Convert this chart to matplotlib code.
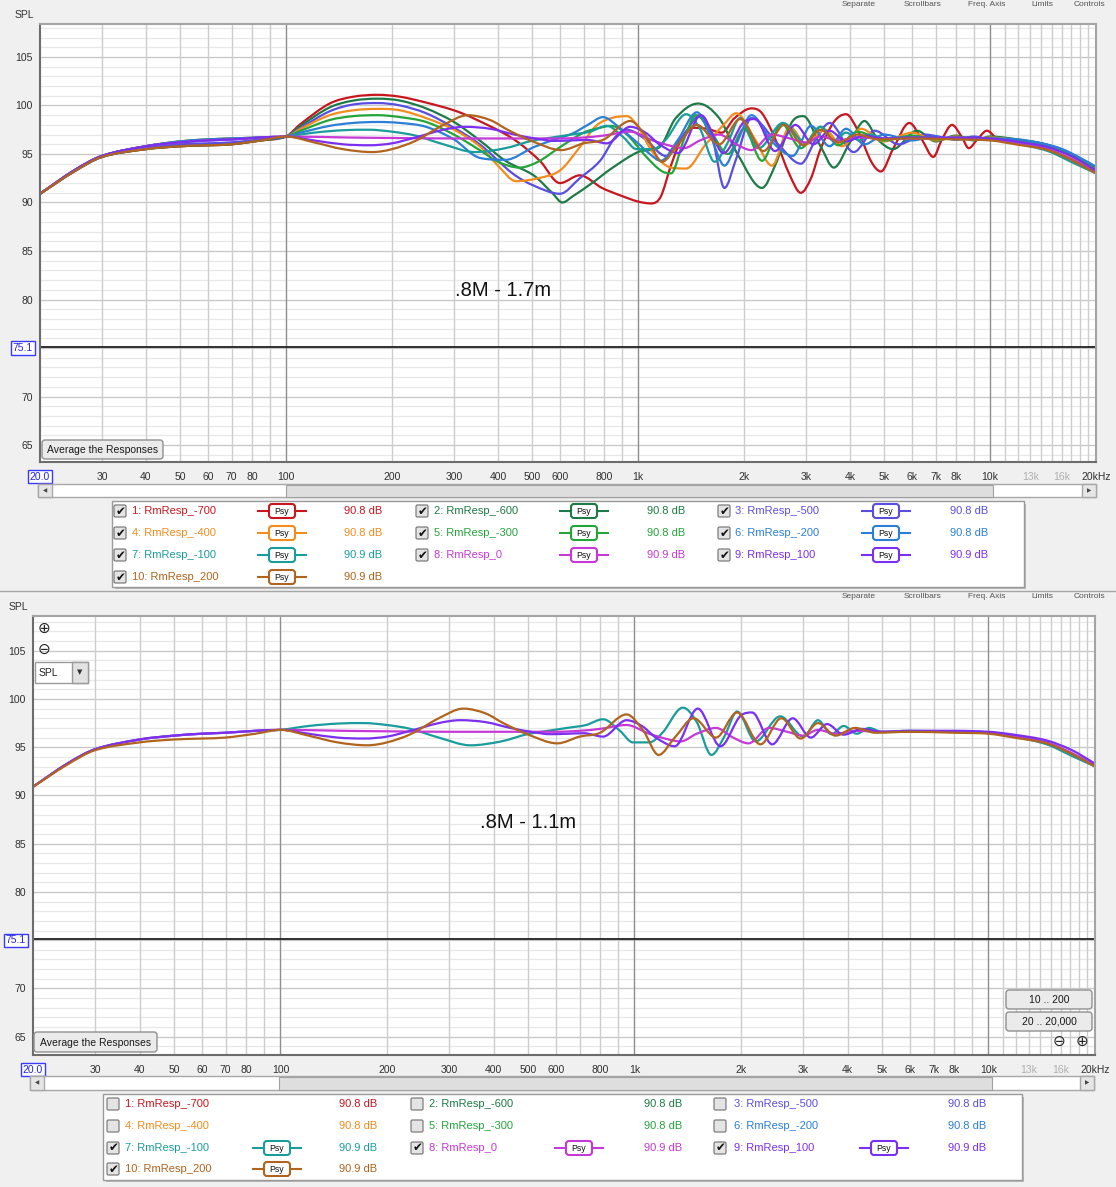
import numpy as np
import matplotlib.pyplot as plt
from matplotlib.path import Path
from matplotlib.patches import PathPatch, FancyBboxPatch, Rectangle
from matplotlib.transforms import Affine2D

plt.rcParams['font.family'] = ['Liberation Sans', 'DejaVu Sans']

# ---- legend entries ----
names = ["1: RmResp_-700", "2: RmResp_-600", "3: RmResp_-500", "4: RmResp_-400",
         "5: RmResp_-300", "6: RmResp_-200", "7: RmResp_-100", "8: RmResp_0",
         "9: RmResp_100", "10: RmResp_200"]
levels = ["90.8 dB"] * 6 + ["90.9 dB"] * 4
colors = ['#c8161e', '#1e7a46', '#5a4ee0', '#f28c1c', '#23a53a',
          '#2b7fd6', '#1b9c9c', '#c638d8', '#7b2ff0', '#b0641e']

# ---- responses (Hz, dB SPL) ----
freq_1 = [20, 25, 30, 40, 50, 60, 70, 85, 100, 110, 133, 155, 182, 211, 250, 300, 340,
          440, 526, 600, 683, 790, 895, 1000, 1090, 1160, 1240, 1330, 1420, 1570, 1730,
          1880, 2100, 2250, 2450, 2700, 2900, 3100, 3300, 3600, 3900, 4200, 4600, 4900,
          5300, 5900, 6400, 6900, 7300, 7800, 8300, 8700, 9200, 9800, 10500, 12000,
          14000, 16000, 18000, 20000]
spl_1 = [90.9, 93.2, 94.7, 95.5, 95.8, 95.9, 96.0, 96.4, 96.8, 98.1, 100.2, 100.9, 101.1,
         100.9, 100.3, 99.5, 98.7, 96.6, 94.3, 92.0, 92.8, 91.5, 90.7, 90.1, 89.9, 90.6,
         93.8, 96.6, 97.7, 97.6, 97.2, 98.7, 99.7, 99.2, 96.6, 92.8, 91.0, 92.5, 95.5,
         98.3, 99.1, 97.5, 94.2, 93.2, 95.5, 98.2, 96.5, 94.7, 96.5, 98.0, 96.8, 95.6,
         96.5, 97.4, 96.6, 96.4, 96.0, 95.3, 94.3, 93.1]

freq_2 = [20, 25, 30, 40, 50, 60, 70, 85, 100, 110, 133, 155, 182, 211, 250, 300, 355,
          420, 505, 570, 610, 650, 740, 840, 1000, 1150, 1280, 1480, 1700, 1930, 2250,
          2450, 2750, 2950, 3300, 3600, 4000, 4400, 4800, 5300, 6200, 7000, 8000, 9000,
          10000, 12000, 14000, 16000, 18000, 20000]
spl_2 = [90.9, 93.2, 94.7, 95.5, 95.8, 95.9, 96.0, 96.4, 96.8, 97.9, 99.8, 100.5, 100.7,
         100.5, 99.7, 98.3, 96.4, 94.3, 92.8, 91.0, 90.0, 90.6, 92.0, 93.5, 95.2, 95.7,
         98.7, 100.2, 98.7, 94.8, 91.5, 93.8, 98.4, 98.9, 95.8, 93.6, 96.2, 98.4, 96.5,
         95.5, 97.4, 96.3, 96.9, 96.4, 96.8, 96.5, 96.1, 95.4, 94.4, 93.3]

freq_3 = [20, 25, 30, 40, 50, 60, 70, 85, 100, 110, 133, 155, 182, 211, 250, 300, 355,
          440, 505, 600, 683, 780, 860, 930, 1050, 1200, 1350, 1500, 1630, 1760, 1900,
          2100, 2500, 2900, 3200, 3500, 4100, 4700, 5500, 6500, 8000, 9000, 10000, 12000,
          14000, 16000, 18000, 20000]
spl_3 = [90.9, 93.2, 94.7, 95.6, 96.0, 96.1, 96.2, 96.5, 96.8, 97.7, 99.4, 100.1, 100.25,
         100.0, 99.2, 97.7, 96.0, 93.0, 91.75, 90.9, 92.5, 94.3, 96.7, 97.5, 96.5, 94.8,
         97.0, 99.0, 96.5, 91.5, 94.5, 98.7, 96.0, 94.0, 96.5, 98.2, 95.2, 97.4, 96.0,
         97.0, 96.5, 96.8, 96.5, 96.4, 96.1, 95.5, 94.6, 93.6]

freq_4 = [20, 25, 30, 40, 50, 60, 70, 85, 100, 110, 133, 155, 182, 211, 250, 300, 355,
          400, 450, 520, 600, 683, 760, 840, 930, 1000, 1100, 1240, 1370, 1550, 1750, 1900,
          2150, 2400, 2700, 3000, 3400, 3800, 4300, 5000, 6000, 7000, 8000, 9000, 10000,
          12000, 14000, 16000, 18000, 20000]
spl_4 = [90.9, 93.3, 94.8, 95.8, 96.3, 96.5, 96.6, 96.7, 96.8, 97.6, 99.0, 99.5, 99.65,
         99.5, 98.7, 97.5, 95.8, 93.8, 92.2, 92.5, 93.3, 95.7, 97.9, 98.7, 98.9, 97.8, 95.2,
         93.6, 93.5, 95.9, 98.0, 99.2, 96.5, 93.8, 97.8, 96.0, 97.5, 95.8, 97.6, 96.3, 97.2,
         96.4, 96.8, 96.5, 96.7, 96.4, 95.9, 95.2, 94.2, 93.2]

freq_5 = [20, 25, 30, 40, 50, 60, 70, 85, 100, 110, 133, 155, 182, 211, 250, 300, 355,
          400, 460, 520, 600, 700, 780, 840, 930, 1050, 1160, 1240, 1350, 1460, 1600, 1800,
          2000, 2250, 2560, 2900, 3300, 3700, 4200, 5000, 6000, 7000, 8000, 10000, 12000,
          14000, 16000, 18000, 20000]
spl_5 = [90.9, 93.3, 94.8, 95.8, 96.3, 96.5, 96.6, 96.7, 96.8, 97.4, 98.5, 98.9, 99.0,
         98.8, 98.3, 97.0, 95.4, 94.2, 93.6, 94.2, 95.7, 97.2, 97.7, 97.9, 97.0, 94.8, 93.3,
         93.0, 96.5, 99.0, 97.5, 95.0, 97.6, 94.3, 98.1, 95.6, 97.8, 95.9, 97.3, 96.4, 96.9,
         96.5, 96.7, 96.6, 96.4, 96.0, 95.3, 94.4, 93.4]

freq_6 = [20, 25, 30, 40, 50, 60, 70, 85, 100, 110, 133, 155, 182, 211, 250, 300, 355,
          420, 505, 580, 650, 720, 795, 880, 1000, 1080, 1160, 1300, 1470, 1620, 1760, 1900,
          2100, 2400, 2750, 3100, 3500, 3900, 4400, 5000, 6000, 7000, 8000, 10000, 12000,
          14000, 16000, 18000, 20000]
spl_6 = [90.9, 93.3, 94.8, 95.8, 96.3, 96.5, 96.6, 96.7, 96.8, 97.2, 97.9, 98.2, 98.3,
         98.2, 97.8, 96.5, 94.6, 94.4, 95.7, 96.5, 97.1, 98.0, 98.8, 97.8, 96.1, 95.0, 94.3,
         96.5, 99.3, 96.5, 93.8, 96.0, 99.0, 96.3, 94.8, 97.9, 95.8, 97.6, 96.0, 97.0, 96.4,
         96.8, 96.5, 96.6, 96.5, 96.1, 95.5, 94.6, 93.7]

freq_7 = [20, 25, 30, 40, 50, 60, 70, 85, 100, 120, 145, 172, 200, 233, 280, 344, 420,
          498, 570, 646, 730, 815, 910, 990, 1100, 1200, 1370, 1500, 1650, 1800, 1950, 2200,
          2580, 3000, 3300, 3600, 3900, 4250, 4600, 5000, 6000, 8000, 10000, 11800, 14600,
          17200, 20000]
spl_7 = [90.9, 93.3, 94.8, 95.8, 96.2, 96.4, 96.5, 96.7, 96.8, 97.2, 97.45, 97.5, 97.3,
         96.9, 96.0, 95.2, 95.6, 96.35, 96.7, 97.0, 97.3, 97.9, 96.7, 95.5, 95.5, 96.5,
         99.1, 97.6, 94.2, 96.2, 98.7, 95.6, 98.2, 96.1, 97.8, 96.35, 97.2, 96.4, 97.0,
         96.6, 96.7, 96.6, 96.5, 96.1, 95.3, 94.1, 93.0]

freq_8 = [20, 25, 30, 40, 50, 60, 70, 85, 100, 150, 200, 300, 400, 500, 600, 700, 800,
          950, 1100, 1250, 1350, 1500, 1700, 1900, 2100, 2400, 2700, 3000, 3300, 3700, 4200,
          5000, 6000, 8000, 10000, 11800, 14600, 17200, 20000]
spl_8 = [90.9, 93.3, 94.8, 95.8, 96.2, 96.4, 96.5, 96.7, 96.8, 96.7, 96.65, 96.6, 96.6,
         96.6, 96.6, 96.7, 96.9, 97.3, 96.4, 95.8, 95.6, 96.4, 97.0, 96.0, 95.4, 97.0, 96.6,
         96.2, 96.8, 96.4, 96.7, 96.6, 96.6, 96.6, 96.5, 96.2, 95.5, 94.4, 93.1]

freq_9 = [20, 25, 30, 40, 50, 60, 70, 85, 100, 120, 145, 172, 200, 233, 280, 322, 380,
          446, 510, 580, 650, 720, 815, 950, 1050, 1150, 1300, 1510, 1750, 2000, 2150, 2450,
          2800, 3150, 3500, 3900, 4400, 5000, 6000, 8000, 10000, 11800, 14600, 17200, 20000]
spl_9 = [90.9, 93.3, 94.8, 95.8, 96.2, 96.4, 96.5, 96.7, 96.8, 96.4, 96.0, 95.9, 96.1,
         96.7, 97.5, 97.8, 97.6, 97.0, 96.6, 96.35, 96.4, 96.45, 96.1, 97.8, 97.2, 96.0,
         95.1, 99.0, 95.1, 98.3, 98.6, 95.3, 98.0, 96.0, 97.4, 96.3, 96.9, 96.6, 96.7, 96.7,
         96.6, 96.3, 95.7, 94.7, 93.3]

freq_10 = [20, 25, 30, 40, 50, 60, 70, 85, 100, 120, 145, 176, 200, 233, 280, 329, 380,
           426, 498, 606, 700, 800, 950, 1060, 1170, 1300, 1470, 1700, 1950, 2270, 2600,
           2950, 3300, 3700, 4200, 4800, 6000, 8000, 10000, 11800, 14600, 17200, 20000]
spl_10 = [90.9, 93.2, 94.7, 95.5, 95.8, 95.9, 96.0, 96.4, 96.8, 96.2, 95.5, 95.2, 95.5,
          96.35, 98.0, 99.0, 98.5, 97.5, 96.35, 95.4, 96.1, 96.5, 98.4, 96.7, 94.2, 96.0,
          98.0, 96.0, 98.6, 95.3, 98.0, 95.9, 97.5, 96.2, 97.0, 96.5, 96.6, 96.5, 96.4, 96.0,
          95.4, 94.3, 93.0]

freqs = [freq_1, freq_2, freq_3, freq_4, freq_5, freq_6, freq_7, freq_8, freq_9, freq_10]
spls = [spl_1, spl_2, spl_3, spl_4, spl_5, spl_6, spl_7, spl_8, spl_9, spl_10]

shown_top = [True] * 10
shown_bottom = [False] * 6 + [True] * 4

xtick_freqs = [20, 30, 40, 50, 60, 70, 80, 100, 200, 300, 400, 500, 600, 800, 1000, 2000,
               3000, 4000, 5000, 6000, 7000, 8000, 10000, 13000, 16000, 20000]
xtick_labels = ['20.0', '30', '40', '50', '60', '70', '80', '100', '200', '300', '400',
                '500', '600', '800', '1k', '2k', '3k', '4k', '5k', '6k', '7k', '8k', '10k',
                '13k', '16k', '20kHz']
ytick_vals = [65, 70, 75.1, 80, 85, 90, 95, 100, 105]
ytick_labels = ['65', '70', '75.1', '80', '85', '90', '95', '100', '105']
grid_freqs = ([f for f in range(30, 100, 10)] + [f for f in range(100, 1000, 100)] +
              [f for f in range(1000, 10000, 1000)] + [f for f in range(10000, 20000, 1000)])
toolbar = ['Separate', 'Scrollbars', 'Freq. Axis', 'Limits', 'Controls']

W, H = 1116, 1187
fig = plt.figure(figsize=(W / 100, H / 100), dpi=100)
fig.patch.set_facecolor('#f0f0f0')
PX = Affine2D().scale(1.0 / W, -1.0 / H).translate(0, 1) + fig.transFigure


def smooth_path(f, v):
    # monotone cubic through the read values, built in log-frequency
    x = np.log10(f)
    y = np.asarray(v, float)
    n = len(x)
    d = np.diff(y) / np.diff(x)
    m = np.zeros(n)
    m[0], m[-1] = d[0], d[-1]
    for i in range(1, n - 1):
        if d[i - 1] * d[i] > 0:
            s = (y[i + 1] - y[i - 1]) / (x[i + 1] - x[i - 1])
            lim = 3 * min(abs(d[i - 1]), abs(d[i]))
            m[i] = np.sign(s) * min(abs(s), lim)
    verts = [(f[0], y[0])]
    codes = [Path.MOVETO]
    for i in range(n - 1):
        h = (x[i + 1] - x[i]) / 3
        verts += [(10 ** (x[i] + h), y[i] + m[i] * h),
                  (10 ** (x[i + 1] - h), y[i + 1] - m[i + 1] * h),
                  (f[i + 1], y[i + 1])]
        codes += [Path.CURVE4] * 3
    return Path(verts, codes)


def box(x0, y0, x1, y1, fc, ec, lw=1.0, r=0, z=2):
    if r:
        p = FancyBboxPatch((x0, y0), x1 - x0, y1 - y0,
                           boxstyle='round,pad=0,rounding_size=%g' % r,
                           fc=fc, ec=ec, lw=lw, transform=PX, zorder=z)
    else:
        p = Rectangle((x0, y0), x1 - x0, y1 - y0, fc=fc, ec=ec, lw=lw,
                      transform=PX, zorder=z)
    fig.add_artist(p)
    return p


def text(x, y, s, size=8, color='#222222', ha='left', va='center', z=4, **kw):
    return fig.text(x, y, s, transform=PX, fontsize=size, color=color, ha=ha, va=va,
                    zorder=z, **kw)


def button(x0, y0, x1, y1, label):
    box(x0, y0, x1, y1, '#ebebeb', '#8f8f8f', lw=1.0, r=3, z=3)
    text((x0 + x1) / 2, (y0 + y1) / 2 + 0.5, label, size=7.5, color='#1a1a1a',
         ha='center', z=5)


def draw_panel(left, top, right, bottom, ylim, shown):
    ax = fig.add_axes([left / W, 1 - bottom / H, (right - left) / W, (bottom - top) / H])
    ax.set_xscale('log')
    ax.set_xlim(20, 20000)
    ax.set_ylim(*ylim)
    ax.set_facecolor('white')
    for g in grid_freqs:
        major = g in (100, 1000, 10000)
        ax.axvline(g, color='#8e8e8e' if major else '#cdcdcd', lw=1.0, zorder=0.5)
    for db in range(64, 109):
        ax.axhline(db, color='#c6c6c6' if db % 5 == 0 else '#e8e8e8', lw=0.9, zorder=0.4)
    ax.axhline(75.1, color='#202020', lw=1.3, zorder=0.6)
    for i in range(10):
        if shown[i]:
            ax.add_patch(PathPatch(smooth_path(freqs[i], spls[i]), fill=False,
                                   ec=colors[i], lw=1.6, zorder=2,
                                   joinstyle='round', capstyle='round'))
    ax.minorticks_off()
    ax.set_xticks(xtick_freqs)
    xl = ax.set_xticklabels(xtick_labels)
    ax.set_yticks(ytick_vals)
    yl = ax.set_yticklabels(ytick_labels)
    ax.tick_params(axis='both', length=0, labelsize=7.5, labelcolor='#303030')
    ax.tick_params(axis='x', pad=7)
    ax.tick_params(axis='y', pad=5)
    for lab in xl:
        if lab.get_text() in ('13k', '16k'):
            lab.set_color('#b0b0b0')
        if lab.get_text() == '20.0':
            lab.set_color('#2424e8')
            lab.set_bbox(dict(boxstyle='square,pad=0.15', fc='white', ec='#3a3aff', lw=1))
    for lab in yl:
        if lab.get_text() == '75.1':
            lab.set_color('#2424e8')
            lab.set_bbox(dict(boxstyle='square,pad=0.15', fc='white', ec='#3a3aff', lw=1))
    for side, sp in ax.spines.items():
        sp.set_color('#6c6c6c' if side in ('left', 'bottom') else '#a4a4a4')
        sp.set_linewidth(1.5)
    return ax


def scrollbar(x0, x1, y0, y1, t0, t1):
    box(x0, y0, x1, y1, 'white', '#a8a8a8', lw=1.0)
    box(t0, y0 + 0.5, t1, y1 - 0.5, '#dedede', '#a0a0a0', lw=0.8)
    box(x0, y0, x0 + 14, y1, '#e6e6e6', '#a8a8a8', lw=1.0)
    box(x1 - 14, y0, x1, y1, '#e6e6e6', '#a8a8a8', lw=1.0)
    text(x0 + 7, (y0 + y1) / 2, '\u25c0', size=4, color='#444444', ha='center')
    text(x1 - 7, (y0 + y1) / 2, '\u25b6', size=4, color='#444444', ha='center')


def legend(x0, y0, x1, y1, cb_x, txt_x, psy_x, val_x, rows_y, shown):
    box(x1 - 1, y0 + 3, x1 + 2, y1 + 2, '#b8b8b8', 'none', lw=0)
    box(x0 + 3, y1 - 1, x1 + 2, y1 + 2, '#b8b8b8', 'none', lw=0)
    box(x0, y0, x1, y1, 'white', '#9a9a9a', lw=1.0, z=2.2)
    for k in range(10):
        r, c = k // 3, k % 3
        y = rows_y[r]
        cx = cb_x[c]
        box(cx - 6, y - 6, cx + 6, y + 6, '#e4e4e4', '#7c7c7c', lw=0.9, r=1.5, z=3)
        if shown[k]:
            text(cx + 0.5, y, '\u2714', size=8.5, color='#111111', ha='center', z=5,
                 family='DejaVu Sans')
            px = psy_x[c]
            fig.add_artist(plt.Line2D([px - 24, px + 24], [y, y], color=colors[k], lw=1.5,
                                      transform=PX, zorder=3))
            box(px - 13, y - 7, px + 13, y + 7, 'white', colors[k], lw=1.5, r=3, z=3.5)
            text(px, y + 0.5, 'Psy', size=6.3, color='#111111', ha='center', z=5)
        text(txt_x[c], y, names[k], size=8, color=colors[k])
        text(val_x[c], y, levels[k], size=8, color=colors[k])


# ---------------- top panel: all ten responses ----------------
draw_panel(40, 24, 1096, 462, (63.25, 108.4), shown_top)
text(24, 15, 'SPL', size=7.5, color='#333333', ha='center')
text(503, 290, '.8M - 1.7m', size=14.5, color='#111111', ha='center')
button(42, 440, 163, 459, 'Average the Responses')
scrollbar(38, 1096, 484, 497, 286, 993)
legend(112, 501, 1024, 587, [120, 422, 724], [132, 434, 735], [282, 584, 886],
       [344, 647, 950], [511, 533, 555, 577], shown_top)

# toolbar captions along the top edge of each panel
for cx, s in zip([859, 923, 987, 1042, 1089], toolbar):
    text(cx, 5, s, size=6, color='#555555', ha='center')
    text(cx, 597, s, size=6, color='#555555', ha='center')

fig.add_artist(plt.Line2D([0, W], [591, 591], color='#a6a6a6', lw=1.0, transform=PX,
                          zorder=2))

# ---------------- bottom panel: four responses ----------------
draw_panel(33, 616, 1095, 1055, (63.1, 108.6), shown_bottom)
text(18, 607, 'SPL', size=7.5, color='#333333', ha='center')
text(528, 822, '.8M - 1.1m', size=14.5, color='#111111', ha='center')
button(34, 1032, 157, 1052, 'Average the Responses')
button(1006, 990, 1092, 1009, '10 .. 200')
button(1006, 1012, 1092, 1031, '20 .. 20,000')
text(44, 628, '\u2295', size=11, color='#222222', ha='center', family='DejaVu Sans')
text(44, 649, '\u2296', size=11, color='#222222', ha='center', family='DejaVu Sans')
text(1059, 1041, '\u2296', size=11, color='#222222', ha='center', family='DejaVu Sans')
text(1082, 1041, '\u2295', size=11, color='#222222', ha='center', family='DejaVu Sans')
box(35, 662, 88, 683, 'white', '#9a9a9a', lw=1.0, z=3)
box(72, 662, 88, 683, '#e2e2e2', '#9a9a9a', lw=1.0, z=3.2)
text(48, 673, 'SPL', size=7.5, color='#222222', ha='center')
text(80, 672, '\u25bc', size=5, color='#333333', ha='center', family='DejaVu Sans')
scrollbar(30, 1094, 1076, 1090, 279, 992)
legend(103, 1094, 1022, 1180, [113, 417, 720], [125, 429, 734], [277, 579, 884],
       [339, 644, 948], [1104, 1126, 1148, 1169], shown_bottom)

fig.savefig('out.png', dpi=100, facecolor=fig.get_facecolor())
plt.close(fig)
